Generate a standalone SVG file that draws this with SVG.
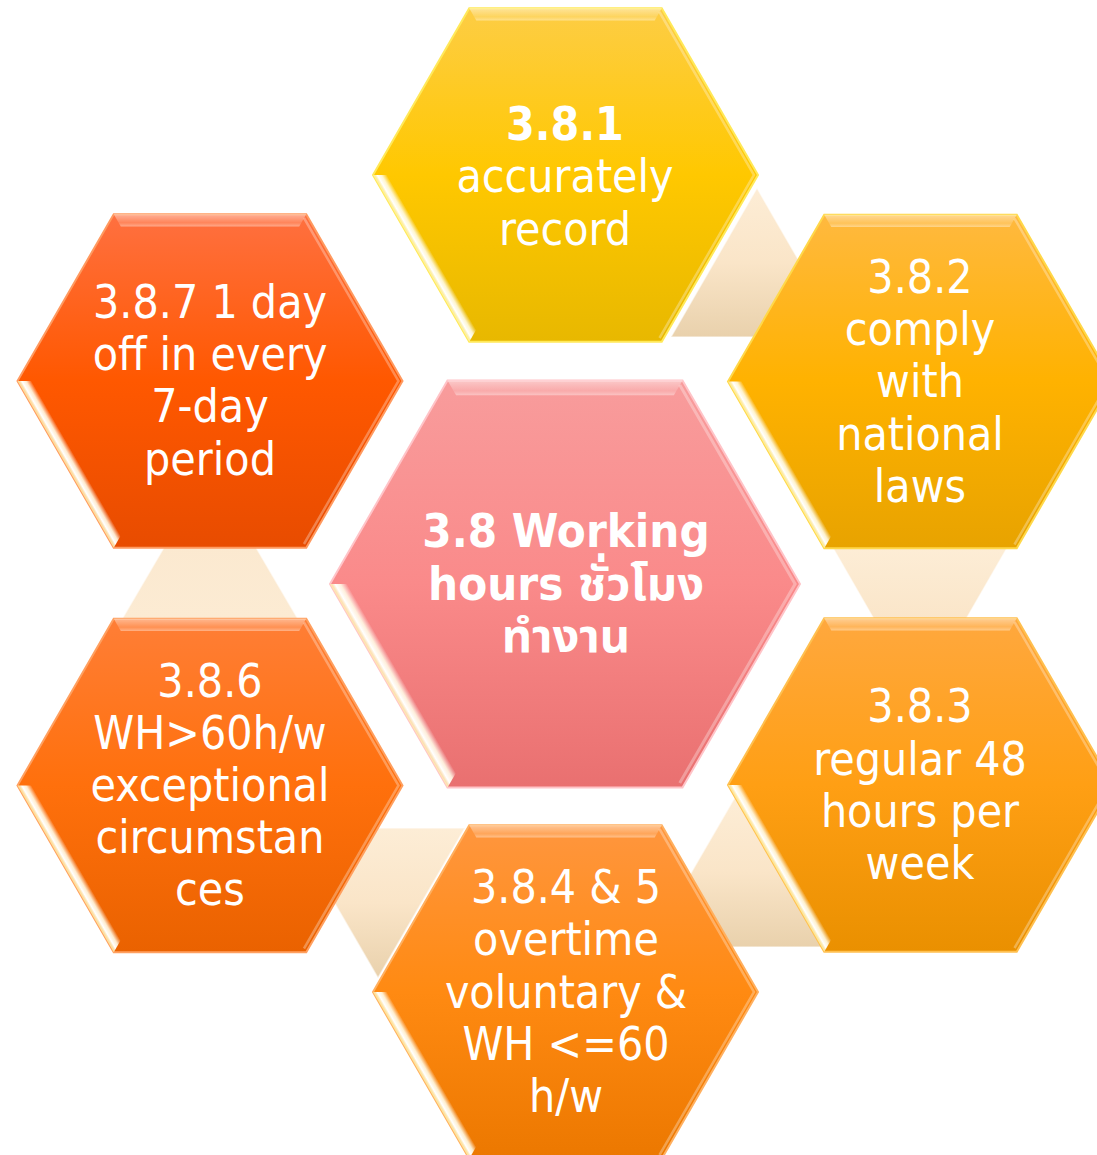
<svg xmlns="http://www.w3.org/2000/svg" xmlns:xlink="http://www.w3.org/1999/xlink" width="1097" height="1155" viewBox="0 0 1097 1155">
<style>
.t{font-family:"DejaVu Sans Condensed","DejaVu Sans","Noto Sans Thai","Noto Sans",sans-serif;font-stretch:condensed;font-size:46px;fill:#ffffff;text-anchor:middle}
.b{font-weight:bold}
.tc{font-size:47px;font-weight:bold}
.conn{fill:url(#gConn);stroke:#ffffff;stroke-opacity:0.55;stroke-width:1.5}
.hl{fill:none;stroke:#ffffff;stroke-opacity:0.3;stroke-width:2.5}
</style>
<defs>
<linearGradient id="gConn" x1="0" y1="0" x2="0" y2="1"><stop offset="0" stop-color="#fdedd6"/><stop offset="0.5" stop-color="#fae5c8"/><stop offset="1" stop-color="#e9d1ac"/></linearGradient>
<linearGradient id="gConnUp" x1="0" y1="0" x2="0" y2="1"><stop offset="0" stop-color="#f6e2c4"/><stop offset="0.5" stop-color="#fbe9d0"/><stop offset="1" stop-color="#fcebd3"/></linearGradient>
<linearGradient id="g1" x1="0" y1="0" x2="0" y2="1"><stop offset="0" stop-color="#fdcd45"/><stop offset="0.5" stop-color="#ffc800"/><stop offset="1" stop-color="#e8b800"/></linearGradient>
<linearGradient id="g2" x1="0" y1="0" x2="0" y2="1"><stop offset="0" stop-color="#ffb93f"/><stop offset="0.5" stop-color="#ffb200"/><stop offset="1" stop-color="#e8a300"/></linearGradient>
<linearGradient id="g3" x1="0" y1="0" x2="0" y2="1"><stop offset="0" stop-color="#ffa83e"/><stop offset="0.5" stop-color="#ff9f14"/><stop offset="1" stop-color="#ea9000"/></linearGradient>
<linearGradient id="g4" x1="0" y1="0" x2="0" y2="1"><stop offset="0" stop-color="#ff963e"/><stop offset="0.5" stop-color="#ff8a12"/><stop offset="1" stop-color="#ec7800"/></linearGradient>
<linearGradient id="g6" x1="0" y1="0" x2="0" y2="1"><stop offset="0" stop-color="#ff7e36"/><stop offset="0.5" stop-color="#ff700c"/><stop offset="1" stop-color="#ea6200"/></linearGradient>
<linearGradient id="g7" x1="0" y1="0" x2="0" y2="1"><stop offset="0" stop-color="#ff7040"/><stop offset="0.5" stop-color="#ff5800"/><stop offset="1" stop-color="#e84c00"/></linearGradient>
<linearGradient id="gc" x1="0" y1="0" x2="0" y2="1"><stop offset="0" stop-color="#f89c9c"/><stop offset="0.5" stop-color="#fa8a8a"/><stop offset="1" stop-color="#e97070"/></linearGradient>
<linearGradient id="gTop" x1="0" y1="-166.7" x2="0" y2="-154.6" gradientUnits="userSpaceOnUse"><stop offset="0" stop-color="#ffffff" stop-opacity="0.45"/><stop offset="0.7" stop-color="#ffffff" stop-opacity="0.15"/><stop offset="1" stop-color="#ffffff" stop-opacity="0.4"/></linearGradient>
<linearGradient id="gLeft" x1="-192.5" y1="0" x2="-182" y2="-6.05" gradientUnits="userSpaceOnUse"><stop offset="0" stop-color="#fff3a0" stop-opacity="0.7"/><stop offset="0.3" stop-color="#ffffff" stop-opacity="1"/><stop offset="0.6" stop-color="#fffbe6" stop-opacity="0.9"/><stop offset="1" stop-color="#ffffff" stop-opacity="0"/></linearGradient>
<polygon id="hexP" points="-192.5,0 -96.25,-166.7 96.25,-166.7 192.5,0 96.25,166.7 -96.25,166.7"/>
<g id="bevel">
<polygon points="-96.25,-166.7 96.25,-166.7 89.2,-154.6 -89.2,-154.6" fill="url(#gTop)"/>
<polygon points="-192.5,0 -96.25,166.7 -89.2,154.6 -178.5,0" fill="url(#gLeft)"/>
<polyline class="hl" points="94,-163 188.5,0 94,163"/>
</g>
</defs>

<g id="connectors">
<polygon class="conn" points="757,188 671,337 843,337"/>
<polygon class="conn" points="833,548 1007,548 920,699"/>
<polygon class="conn" points="735,797 648,947 822,947"/>
<polygon class="conn" points="291,828 465,828 378,978"/>
<polygon class="conn" style="fill:url(#gConnUp)" points="210,469 122,619 298,619"/>
</g>

<g id="node-381">
<g transform="translate(565.5,175)"><use xlink:href="#hexP" fill="url(#g1)" stroke="#ffe95a" stroke-width="2"/><use xlink:href="#bevel"/></g>
<text class="t"><tspan class="b" x="565" y="140">3.8.1</tspan><tspan x="565" y="192">accurately</tspan><tspan x="565" y="245">record</tspan></text>
</g>

<g id="node-382">
<g transform="translate(920.5,381.5)"><use xlink:href="#hexP" fill="url(#g2)" stroke="#ffd84a" stroke-width="2"/><use xlink:href="#bevel"/></g>
<text class="t"><tspan x="920" y="293">3.8.2</tspan><tspan x="920" y="345">comply</tspan><tspan x="920" y="397">with</tspan><tspan x="920" y="450">national</tspan><tspan x="920" y="502">laws</tspan></text>
</g>

<g id="node-383">
<g transform="translate(920.5,785)"><use xlink:href="#hexP" fill="url(#g3)" stroke="#ffc050" stroke-width="2"/><use xlink:href="#bevel"/></g>
<text class="t"><tspan x="920" y="722">3.8.3</tspan><tspan x="920" y="775">regular 48</tspan><tspan x="920" y="827">hours per</tspan><tspan x="920" y="879">week</tspan></text>
</g>

<g id="node-3845">
<g transform="translate(565.5,992)"><use xlink:href="#hexP" fill="url(#g4)" stroke="#ffb060" stroke-width="2"/><use xlink:href="#bevel"/></g>
<text class="t"><tspan x="566" y="903">3.8.4 &amp; 5</tspan><tspan x="566" y="955">overtime</tspan><tspan x="566" y="1008">voluntary &amp;</tspan><tspan x="566" y="1060">WH &lt;=60</tspan><tspan x="566" y="1112">h/w</tspan></text>
</g>

<g id="node-386">
<g transform="translate(210,785.5)"><use xlink:href="#hexP" fill="url(#g6)" stroke="#ffa060" stroke-width="2"/><use xlink:href="#bevel"/></g>
<text class="t"><tspan x="210" y="697">3.8.6</tspan><tspan x="210" y="749">WH&gt;60h/w</tspan><tspan x="210" y="801">exceptional</tspan><tspan x="210" y="853">circumstan</tspan><tspan x="210" y="905">ces</tspan></text>
</g>

<g id="node-387">
<g transform="translate(210,381)"><use xlink:href="#hexP" fill="url(#g7)" stroke="#ff9a60" stroke-width="2"/><use xlink:href="#bevel"/></g>
<text class="t"><tspan x="210" y="318">3.8.7 1 day</tspan><tspan x="210" y="370">off in every</tspan><tspan x="210" y="422">7-day</tspan><tspan x="210" y="475">period</tspan></text>
</g>

<g id="node-center">
<g transform="translate(565,584) scale(1.2208)"><use xlink:href="#hexP" fill="url(#gc)" stroke="#ffc4c8" stroke-width="1.6"/><use xlink:href="#bevel"/></g>
<text class="t tc"><tspan x="566" y="547">3.8 Working</tspan><tspan x="566" y="600">hours ชั่วโมง</tspan><tspan x="566" y="652">ทำงาน</tspan></text>
</g>
</svg>
